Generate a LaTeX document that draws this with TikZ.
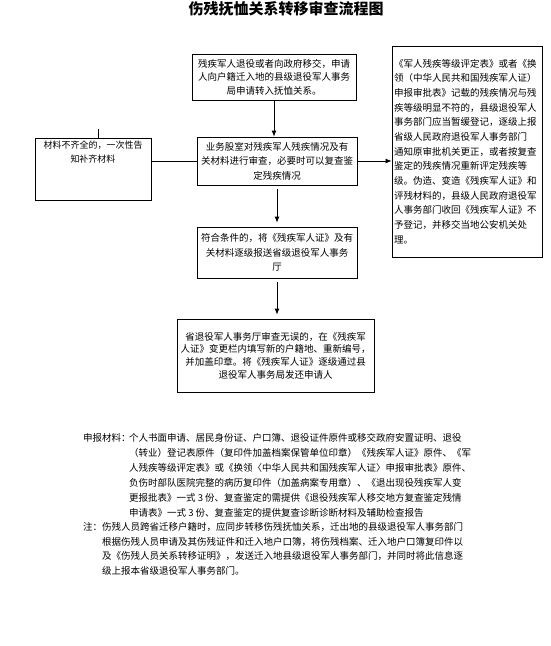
\documentclass[tikz,border=0pt]{standalone}
\usepackage{fontspec}
\newfontfamily\cjk{Noto Sans CJK SC}
\usetikzlibrary{arrows.meta}
\newcommand{\zhcomma}{^^^^ff0c}
\newcommand{\zhlp}{^^^^ff08}
\newcommand{\zhrp}{^^^^ff09}
\newcommand{\zhcolon}{^^^^ff1a}
\tikzset{
  flowbox/.style={draw, line width=0.8pt, inner sep=2pt, align=center,
    font=\cjk\fontsize{9.5}{14.5}\selectfont},
  notetext/.style={anchor=west, inner sep=0pt, font=\cjk\fontsize{9.5}{12}\selectfont}
}
\begin{document}
\begin{tikzpicture}[
  x=1pt, y=-1pt,
  flowline/.style={line width=0.8pt, -{Latex[length=6pt,width=5pt]}}
]
\useasboundingbox (0,0) rectangle (550,646);
\node[font=\cjk\bfseries\fontsize{15}{18}\selectfont] (title) at (286,9) {伤残抚恤关系转移审查流程图};

\node[flowbox, minimum width=164pt, minimum height=46pt, text width=160pt,
  font=\cjk\fontsize{9.5}{13.5}\selectfont] (apply) at (274,77)
  {残疾军人退役或者向政府移交\zhcomma 申请\\人向户籍迁入地的县级退役军人事务\\局申请转入抚恤关系。};
\node[flowbox, minimum width=160pt, minimum height=48pt, text width=156pt] (review) at (277,161)
  {业务股室对残疾军人残疾情况及有\\关材料进行审查\zhcomma 必要时可以复查鉴\\定残疾情况};
\node[flowbox, minimum width=116pt, minimum height=62pt] (lbox) at (93,169) {};
\node[anchor=north, inner sep=0pt, align=center, font=\cjk\fontsize{9}{14}\selectfont]
  (lboxtext) at (93,141) {材料不齐全的\zhcomma 一次性告\\知补齐材料};
\coordinate (lboxtop) at (98,129);
\node[flowbox, minimum width=150pt, minimum height=211pt, text width=146pt, align=left,
  font=\cjk\fontsize{9.5}{14.67}\selectfont] (check) at (467,151.5)
  {《军人残疾等级评定表》或者《换\\领\zhlp 中华人民共和国残疾军人证\zhrp\\申报审批表》记载的残疾情况与残\\疾等级明显不符的\zhcomma 县级退役军人\\事务部门应当暂缓登记\zhcomma 逐级上报\\省级人民政府退役军人事务部门\\通知原审批机关更正\zhcomma 或者按复查\\鉴定的残疾情况重新评定残疾等\\级。伪造、变造《残疾军人证》和\\评残材料的\zhcomma 县级人民政府退役军\\人事务部门收回《残疾军人证》不\\予登记\zhcomma 并移交当地公安机关处\\理。};
\node[flowbox, minimum width=160pt, minimum height=51pt, text width=156pt] (report) at (277,252.5)
  {符合条件的\zhcomma 将《残疾军人证》及有\\关材料逐级报送省级退役军人事务\\厅};
\node[flowbox, minimum width=197pt, minimum height=73pt, text width=193pt,
  font=\cjk\fontsize{9.5}{12.6}\selectfont] (issue) at (275.5,355.5)
  {省退役军人事务厅审查无误的\zhcomma 在《残疾军\\人证》变更栏内填写新的户籍地、重新编号\zhcomma\\并加盖印章。将《残疾军人证》逐级通过县\\退役军人事务局发还申请人};

\draw[flowline] (apply.south) -- (apply.south |- review.north);
\draw[flowline] (review.east) -- (review.east -| check.west);
\draw[line width=0.8pt] (review.west) -- (review.west -| lbox.east);
\draw[line width=0.8pt] (lboxtop |- lbox.north) -- (lboxtop);
\draw[flowline] ([yshift=-4pt]review.south) -- ([yshift=4pt]review.south |- report.north);
\draw[flowline] ([yshift=-4pt]report.south) -- ([yshift=4pt]report.south |- issue.north);

\node[notetext] (matlabel) at (83,438) {申报材料\zhcolon};
\node[notetext] (mat1) at (129,438) {个人书面申请、居民身份证、户口簿、退役证件原件或移交政府安置证明、退役};
\node[notetext] (mat2) at (129,453) {\zhlp 转业\zhrp 登记表原件\zhlp 复印件加盖档案保管单位印章\zhrp《残疾军人证》原件、《军};
\node[notetext] (mat3) at (129,468) {人残疾等级评定表》或《换领〈中华人民共和国残疾军人证〉申报审批表》原件、};
\node[notetext] (mat4) at (129,483) {负伤时部队医院完整的病历复印件\zhlp 加盖病案专用章\zhrp 、《退出现役残疾军人变};
\node[notetext] (mat5) at (129,498) {更报批表》一式 3 份、复查鉴定的需提供《退役残疾军人移交地方复查鉴定残情};
\node[notetext] (mat6) at (129,513) {申请表》一式 3 份、复查鉴定的提供复查诊断诊断材料及辅助检查报告};
\node[notetext] (notelabel) at (83,527) {注\zhcolon};
\node[notetext] (note1) at (102,527) {伤残人员跨省迁移户籍时\zhcomma 应同步转移伤残抚恤关系\zhcomma 迁出地的县级退役军人事务部门};
\node[notetext] (note2) at (102,542) {根据伤残人员申请及其伤残证件和迁入地户口簿\zhcomma 将伤残档案、迁入地户口簿复印件以};
\node[notetext] (note3) at (102,556) {及《伤残人员关系转移证明》\zhcomma 发送迁入地县级退役军人事务部门\zhcomma 并同时将此信息逐};
\node[notetext] (note4) at (102,571) {级上报本省级退役军人事务部门。};
\end{tikzpicture}
\end{document}
